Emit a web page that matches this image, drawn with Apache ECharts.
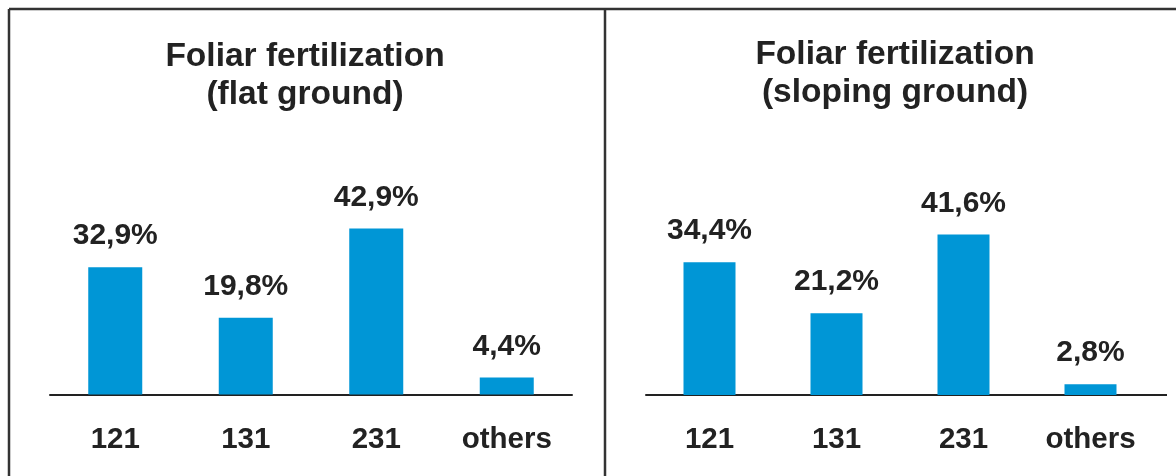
<!DOCTYPE html>
<html>
<head>
<meta charset="utf-8">
<script src="https://cdn.jsdelivr.net/npm/echarts@6/dist/echarts.min.js"></script>
<style>
  html, body { margin: 0; padding: 0; background: #fff; }
  #chart { width: 1176px; height: 476px; }
</style>
</head>
<body>
<div id="chart"></div>
<script>
// data
var categories = ['121', '131', '231', 'others'];
var flatValues = [32.9, 19.8, 42.9, 4.4];
var slopingValues = [34.4, 21.2, 41.6, 2.8];
var flatTitle = 'Foliar fertilization\n(flat ground)';
var slopingTitle = 'Foliar fertilization\n(sloping ground)';

var FONT = '"Liberation Sans", Arial, sans-serif';
var INK = '#222';
var BAR = '#0096d6';

var chart = echarts.init(document.getElementById('chart'));

function pct(p) {
  return p.value.toFixed(1).replace('.', ',') + '%';
}

function xAxisFor(idx) {
  return {
    type: 'category',
    gridIndex: idx,
    data: categories,
    axisTick: {show: false},
    axisLine: {lineStyle: {color: INK, width: 2}},
    axisLabel: {
      color: INK, fontSize: 29.5, fontWeight: 'bold', fontFamily: FONT, margin: 30
    }
  };
}

function yAxisFor(idx) {
  return {type: 'value', gridIndex: idx, min: 0, max: 50, show: false, splitLine: {show: false}};
}

function barSeries(idx, values, width) {
  return {
    type: 'bar',
    xAxisIndex: idx,
    yAxisIndex: idx,
    data: values,
    barWidth: width,
    itemStyle: {color: BAR},
    label: {
      show: true,
      position: 'top',
      distance: 16,
      color: INK,
      fontSize: 30,
      fontWeight: 'bold',
      fontFamily: FONT,
      formatter: pct
    }
  };
}

var option = {
  backgroundColor: '#fff',
  animation: false,
  grid: [
    {left: 50, width: 522, top: 201, bottom: 81.5},
    {left: 646, width: 508, top: 202, bottom: 81}
  ],
  xAxis: [xAxisFor(0), xAxisFor(1)],
  yAxis: [yAxisFor(0), yAxisFor(1)],
  series: [
    barSeries(0, flatValues, 54),
    barSeries(1, slopingValues, 52)
  ],
  graphic: [
    // frame and divider
    {type: 'line', shape: {x1: 9, y1: 9, x2: 1176, y2: 9}, style: {stroke: '#333', lineWidth: 2.5}},
    {type: 'line', shape: {x1: 9, y1: 9, x2: 9, y2: 476}, style: {stroke: '#333', lineWidth: 2.5}},
    {type: 'line', shape: {x1: 605, y1: 9, x2: 605, y2: 476}, style: {stroke: '#333', lineWidth: 2.5}},
    // right baseline runs a bit past the last category
    {type: 'line', shape: {x1: 1153, y1: 395, x2: 1167, y2: 395}, style: {stroke: INK, lineWidth: 2}},
    // panel titles
    {
      type: 'text', x: 305, y: 38,
      style: {
        text: flatTitle, align: 'center', verticalAlign: 'top',
        fontSize: 33.5, fontWeight: 'bold', fontFamily: FONT, lineHeight: 38, fill: INK
      }
    },
    {
      type: 'text', x: 895, y: 36,
      style: {
        text: slopingTitle, align: 'center', verticalAlign: 'top',
        fontSize: 33.5, fontWeight: 'bold', fontFamily: FONT, lineHeight: 38, fill: INK
      }
    }
  ]
};

chart.setOption(option);
</script>
</body>
</html>
